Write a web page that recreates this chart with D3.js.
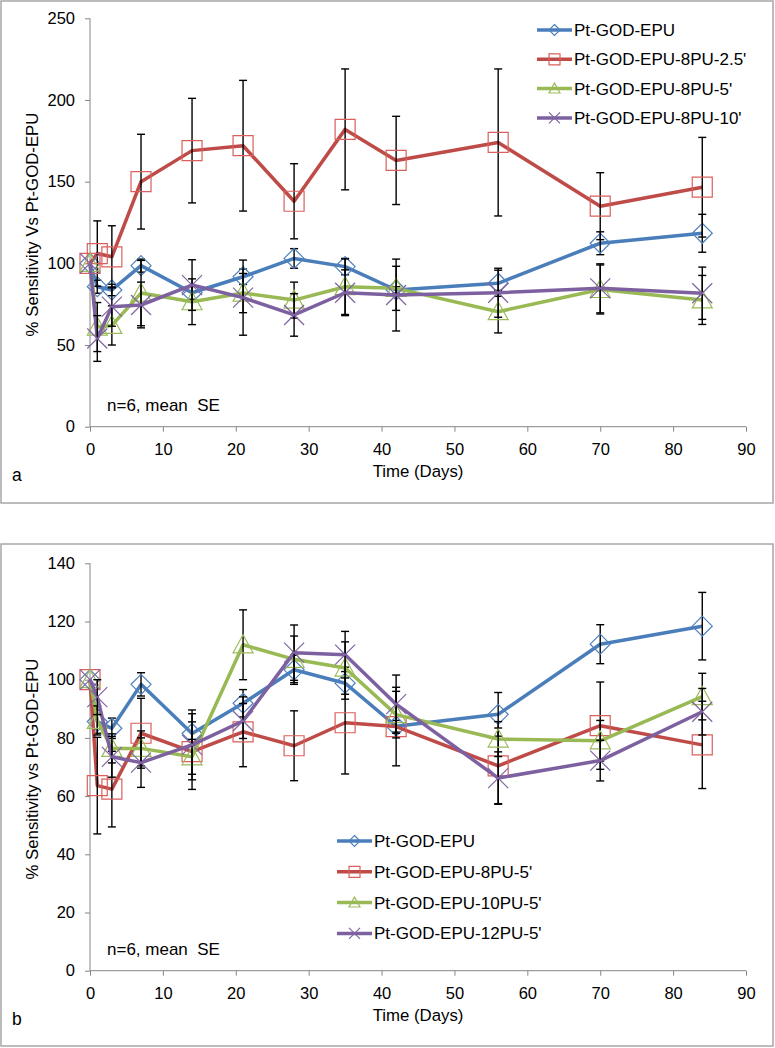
<!DOCTYPE html>
<html><head><meta charset="utf-8">
<script src="https://cdn.jsdelivr.net/npm/d3@7"></script>
<style>
body{margin:0;background:#fff}
svg{display:block}
text{font-family:"Liberation Sans",Arial,sans-serif;fill:#000}
</style>
</head><body>
<svg id="c" width="775" height="1048"></svg>
<script>
// ---------- DATA ----------
const days = [0, 1, 3, 7, 14, 21, 28, 35, 42, 56, 70, 84];

// Panel a
const aLabels = ["Pt-GOD-EPU", "Pt-GOD-EPU-8PU-2.5'", "Pt-GOD-EPU-8PU-5'", "Pt-GOD-EPU-8PU-10'"];
const aEPU      = [100, 85.7, 83.7, 98.6, 82, 91.8, 103, 98, 83.7, 87.8, 112.3, 118.4];
const aEPUErr   = [0, 4, 3.5, 4, 4, 4.7, 6, 5, 2, 8, 7, 11.6];
const a8PU25    = [100, 106, 104, 150, 169, 172, 138, 182, 163, 174, 135, 146.6];
const a8PU25Err = [0, 20, 19, 29, 32, 40, 23, 37, 27, 45, 20.5, 30.5];
const a8PU5     = [100, 61, 62, 81.8, 76.5, 81.8, 77.5, 85.7, 84.7, 70.4, 84, 77.6];
const a8PU5Err  = [0, 15, 12, 20, 14, 12, 11, 17, 13.5, 13, 15, 15];
const a8PU10    = [100, 54, 73.5, 74.5, 86.7, 79, 68.4, 82, 80.6, 82, 84.7, 81.7];
const a8PU10Err = [0, 14, 12, 14, 15.5, 23, 13, 14, 22, 15, 15, 16];
const aYTicks = [0, 50, 100, 150, 200, 250];

// Panel b
const bLabels = ["Pt-GOD-EPU", "Pt-GOD-EPU-8PU-5'", "Pt-GOD-EPU-10PU-5'", "Pt-GOD-EPU-12PU-5'"];
const bEPU      = [100, 85.6, 83.3, 98.4, 81.5, 91.9, 103.4, 98.8, 84, 88.1, 112.2, 118.4];
const bEPUErr   = [0, 4, 3.5, 4, 4, 4.7, 5, 5.5, 2, 7.5, 6.7, 11.6];
const b8PU5     = [100, 63.6, 62.4, 81.6, 75.3, 82.1, 77.3, 85.2, 83.9, 70.4, 84.2, 77.6];
const b8PU5Err  = [0, 16.6, 13, 12, 13, 12, 12, 17.6, 13.5, 13, 15, 15];
const b10PU5    = [100, 86, 76.4, 76.4, 73.5, 112, 107, 104, 88, 79.6, 79, 94.2];
const b10PU5Err = [0, 5, 5, 6, 6, 12, 8, 9, 8, 6, 7, 8];
const b12PU5    = [100, 94, 73.5, 71.5, 77.6, 85.8, 109.3, 108.6, 91.6, 66.2, 72.2, 89];
const b12PU5Err = [0, 6, 7, 8.5, 12, 6, 9.5, 8, 10, 9, 7, 8];
const bYTicks = [0, 20, 40, 60, 80, 100, 120, 140];

const xTicks = [0, 10, 20, 30, 40, 50, 60, 70, 80, 90];

// ---------- STYLE ----------
const lineColors   = ["#4A7EBB", "#BE4B48", "#98B954", "#7D60A0"];
const markerColors = ["#4F81BD", "#D9605C", "#9BBB59", "#8064A2"];
const markerKinds  = ["diamond", "square", "triangle", "x"];

const svg = d3.select("#c");
svg.append("rect").attr("width", 775).attr("height", 1048).attr("fill", "#fff");

function markerPath(kind, s) {
  if (kind === "diamond") return `M0,${-s}L${s},0L0,${s}L${-s},0Z`;
  if (kind === "square") return `M${-s},${-s}H${s}V${s}H${-s}Z`;
  if (kind === "triangle") return `M0,${-s}L${s},${s*0.8}L${-s},${s*0.8}Z`;
  return `M${-s},${-s}L${s},${s}M${-s},${s}L${s},${-s}`;
}

function drawPanel(p) {
  const g = svg.append("g");
  g.append("rect").attr("x", p.box[0]).attr("y", p.box[1]).attr("width", p.box[2]).attr("height", p.box[3])
    .attr("fill", "#fff").attr("stroke", "#A6A6A6").attr("stroke-width", 1.5);

  const x = d3.scaleLinear().domain([0, 90]).range([90, 746]);
  const y = d3.scaleLinear().domain([0, p.yMax]).range(p.yRange);

  const ya = g.append("g").attr("transform", `translate(${x(0)},0)`)
    .call(d3.axisLeft(y).tickValues(p.yTicks).tickSize(5).tickPadding(10).tickFormat(d3.format("d")));
  const xa = g.append("g").attr("transform", `translate(0,${y(0)})`)
    .call(d3.axisBottom(x).tickValues(xTicks).tickSize(5).tickPadding(12).tickFormat(d3.format("d")));
  [ya, xa].forEach(a => {
    a.select(".domain").attr("stroke", "#868686").attr("stroke-width", 1);
    a.selectAll(".tick line").attr("stroke", "#868686");
    a.selectAll(".tick text").attr("font-size", 16.5).attr("font-family", "Liberation Sans, Arial, sans-serif").attr("fill", "#000");
  });
  ya.select(".domain").attr("d", `M0,${y(p.yMax)}V${y(0)}`);
  xa.select(".domain").attr("d", `M${x(0)},0H${x(90)}`);

  p.series.forEach((s, i) => {
    const pts = days.map((d, k) => ({d, v: s.v[k], e: s.e[k]}));
    const sg = g.append("g");
    sg.append("path").datum(pts)
      .attr("d", d3.line().x(q => x(q.d)).y(q => y(q.v)))
      .attr("fill", "none").attr("stroke", lineColors[i]).attr("stroke-width", 3.5)
      .attr("stroke-linejoin", "round");
    const eb = sg.selectAll(".eb").data(pts.filter(q => q.e > 0)).enter().append("g");
    eb.append("line").attr("x1", q => x(q.d)).attr("x2", q => x(q.d))
      .attr("y1", q => y(q.v + q.e)).attr("y2", q => y(q.v - q.e))
      .attr("stroke", "#000").attr("stroke-width", 1.4);
    [1, -1].forEach(sign => {
      eb.append("line").attr("x1", q => x(q.d) - 4).attr("x2", q => x(q.d) + 4)
        .attr("y1", q => y(q.v + sign * q.e)).attr("y2", q => y(q.v + sign * q.e))
        .attr("stroke", "#000").attr("stroke-width", 1.4);
    });
    sg.selectAll(".mk").data(pts).enter().append("path")
      .attr("transform", q => `translate(${x(q.d)},${y(q.v)})`)
      .attr("d", markerPath(markerKinds[i], 10))
      .attr("fill", "none").attr("stroke", markerColors[i]).attr("stroke-width", 1.2);
  });

  p.labels.forEach((lab, i) => {
    const ly = p.legY + i * p.legDy;
    g.append("line").attr("x1", p.legX).attr("x2", p.legX + 35).attr("y1", ly).attr("y2", ly)
      .attr("stroke", lineColors[i]).attr("stroke-width", 3.5);
    g.append("path").attr("transform", `translate(${p.legX + 17.5},${ly})`)
      .attr("d", markerPath(markerKinds[i], 5.5))
      .attr("fill", "none").attr("stroke", markerColors[i]).attr("stroke-width", 1.2);
    g.append("text").attr("x", p.legX + 37).attr("y", ly + 6).attr("font-size", 17).text(lab);
  });

  const yMid = (p.yRange[0] + p.yRange[1]) / 2;
  g.append("text").attr("transform", `translate(38,${yMid + 2}) rotate(-90)`)
    .attr("text-anchor", "middle").attr("font-size", 16.8).text(p.yTitle);
  g.append("text").attr("x", 418).attr("y", y(0) + 50).attr("text-anchor", "middle")
    .attr("font-size", 16.8).text("Time (Days)");
  g.append("text").attr("x", 107).attr("y", y(0) - 16).attr("font-size", 17)
    .style("white-space", "pre").text("n=6, mean  SE");
  g.append("text").attr("x", 12).attr("y", y(0) + 54).attr("font-size", 17.5).text(p.letter);
}

drawPanel({
  box: [1, 1, 772, 502], yMax: 250, yRange: [426.7, 18.3], yTicks: aYTicks,
  series: [{v: aEPU, e: aEPUErr}, {v: a8PU25, e: a8PU25Err}, {v: a8PU5, e: a8PU5Err}, {v: a8PU10, e: a8PU10Err}],
  labels: aLabels, legX: 537, legY: 30, legDy: 29.3,
  yTitle: "% Sensitivity Vs Pt-GOD-EPU", letter: "a"
});
drawPanel({
  box: [1, 544, 772, 502], yMax: 140, yRange: [970.7, 563.3], yTicks: bYTicks,
  series: [{v: bEPU, e: bEPUErr}, {v: b8PU5, e: b8PU5Err}, {v: b10PU5, e: b10PU5Err}, {v: b12PU5, e: b12PU5Err}],
  labels: bLabels, legX: 337, legY: 841, legDy: 30.8,
  yTitle: "% Sensitivity vs Pt-GOD-EPU", letter: "b"
});
</script>
</body></html>
